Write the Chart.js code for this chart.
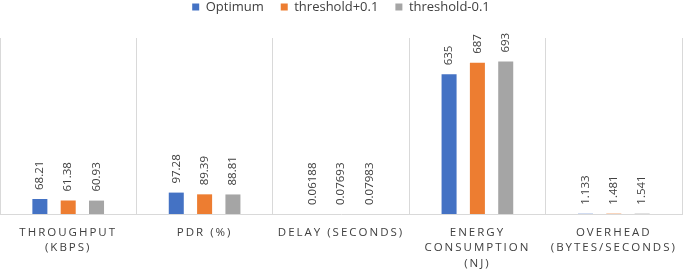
<!DOCTYPE html>
<html>
<head>
<meta charset="utf-8">
<script src="https://cdn.jsdelivr.net/npm/chart.js@4/dist/chart.umd.min.js"></script>
<style>
  html, body { margin: 0; padding: 0; background: #fff; }
  canvas { display: block; }
</style>
</head>
<body>
<canvas id="metrics" width="685" height="271"></canvas>
<script>
// categories (multi-line like the original)
const categories = [
  ["THROUGHPUT", "(KBPS)"],
  ["PDR (%)"],
  ["DELAY (SECONDS)"],
  ["ENERGY", "CONSUMPTION", "(NJ)"],
  ["OVERHEAD", "(BYTES/SECONDS)"]
];

// series values
const optimum = [68.21, 97.28, 0.06188, 635, 1.133];
const thresholdPlus = [61.38, 89.39, 0.07693, 687, 1.481];
const thresholdMinus = [60.93, 88.81, 0.07983, 693, 1.541];

const seriesNames = ["Optimum", "threshold+0.1", "threshold-0.1"];
const seriesColors = ["#4472C4", "#ED7D31", "#A5A5A5"];

const yMax = 800;

// value labels on top of bars, rotated
const barValues = {
  id: "barValues",
  afterDatasetsDraw(chart) {
    const ctx = chart.ctx;
    ctx.save();
    ctx.font = "11.5px 'Open Sans'";
    ctx.fillStyle = "#404040";
    ctx.textAlign = "left";
    ctx.textBaseline = "middle";
    chart.data.datasets.forEach((ds, i) => {
      const meta = chart.getDatasetMeta(i);
      meta.data.forEach((bar, j) => {
        ctx.save();
        ctx.translate(bar.x, bar.y - 9);
        ctx.rotate(-Math.PI / 2);
        ctx.fillText(String(ds.data[j]), 0, 0);
        ctx.restore();
      });
    });
    ctx.restore();
  }
};

// letter spaced axis labels + legend placement
const tweaks = {
  id: "tweaks",
  beforeInit(chart) {
    const lg = chart.legend;
    const fit = lg.fit;
    lg.fit = function () {
      fit.call(this);
      this.height = 38;
    };
  },
  afterLayout(chart) {
    const lg = chart.legend;
    lg.top = 0.5 - lg.options.labels.padding;
    const x = chart.scales.x;
    if (!x._spaced) {
      const draw = x.drawLabels;
      x.drawLabels = function (area) {
        const ctx = this.ctx;
        ctx.save();
        ctx.letterSpacing = "2px";
        draw.call(this, area);
        ctx.restore();
      };
      x._spaced = true;
    }
  }
};

new Chart(document.getElementById("metrics"), {
  type: "bar",
  data: {
    labels: categories,
    datasets: [optimum, thresholdPlus, thresholdMinus].map((d, i) => ({
      label: seriesNames[i],
      data: d,
      backgroundColor: seriesColors[i],
      borderWidth: 0,
      categoryPercentage: 0.623,
      barPercentage: 0.53
    }))
  },
  options: {
    responsive: false,
    devicePixelRatio: 1,
    animation: false,
    layout: { padding: { left: 0, right: 3, top: 0, bottom: 0 } },
    plugins: {
      legend: {
        position: "top",
        labels: {
          boxWidth: 7,
          boxHeight: 7,
          padding: 17,
          color: "#404040",
          font: { family: "'Open Sans'", size: 13 }
        }
      },
      tooltip: { enabled: false }
    },
    scales: {
      x: {
        offset: true,
        grid: { color: "#D9D9D9", offset: true, drawTicks: false },
        border: { color: "#D9D9D9" },
        ticks: {
          color: "#404040",
          padding: 11,
          maxRotation: 0,
          autoSkip: false,
          font: { family: "'Open Sans'", size: 11.5, lineHeight: 1.33 }
        },
        afterFit(scale) {
          scale.height = 57;
        }
      },
      y: {
        display: false,
        min: 0,
        max: yMax
      }
    }
  },
  plugins: [barValues, tweaks]
});
</script>
</body>
</html>
